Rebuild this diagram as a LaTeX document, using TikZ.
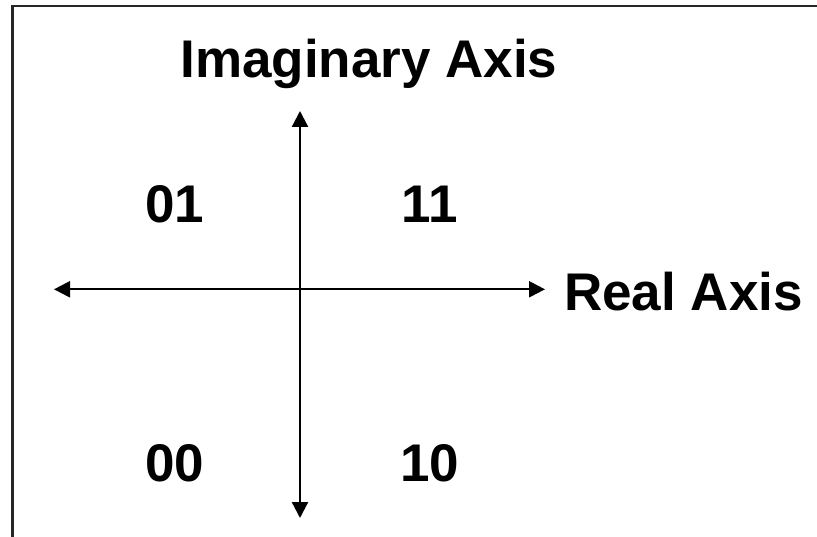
\documentclass[tikz,border=0pt]{standalone}
\usepackage{fontspec}
\setmainfont{Liberation Sans}
\usetikzlibrary{arrows.meta}
\tikzset{
  frame/.style={line width=2.7bp, draw=black!85},
  axis/.style={line width=2.3bp, -{Triangle[length=16bp,width=16bp]}},
  lbl/.style={inner sep=0pt, anchor=base, font=\fontsize{53bp}{60bp}\selectfont\bfseries}
}
\begin{document}
\begin{tikzpicture}[x=1bp,y=-1bp]
\useasboundingbox (0,0) rectangle (817,537);
\coordinate (fb) at (12.5,537);
\coordinate (fc) at (12.5,6);
\coordinate (fr) at (817,6);
\draw[frame] (fb) -- (fc) -- (fr);
\coordinate (o) at (300,289.3);
\coordinate (top) at (300,111);
\coordinate (bot) at (300,518);
\coordinate (lft) at (54,289.3);
\coordinate (rgt) at (545,289.3);
\draw[axis] (o) -- (top);
\draw[axis] (o) -- (bot);
\draw[axis] (o) -- (lft);
\draw[axis] (o) -- (rgt);
\node[lbl] (im) at (369,78) {Imaginary Axis};
\node[lbl, anchor=base west] (re) at (564,311) {Real Axis};
\node[lbl] (q01) at (175,223) {01};
\node[lbl] (q11) at (430,223) {11};
\node[lbl] (q00) at (175,481) {00};
\node[lbl] (q10) at (430,481) {10};
\end{tikzpicture}
\end{document}
